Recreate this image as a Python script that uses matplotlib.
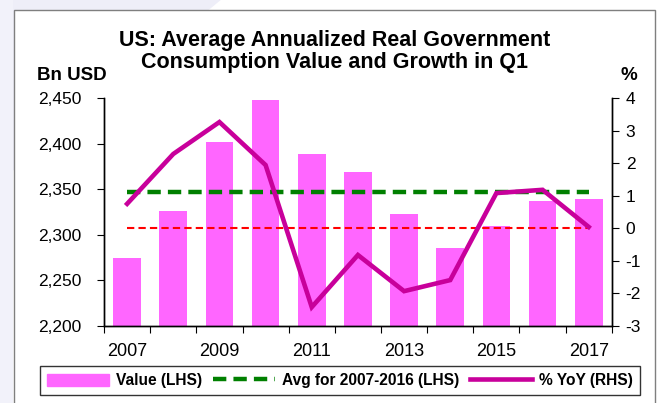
import numpy as np
import matplotlib.pyplot as plt
from matplotlib.patches import Rectangle, Polygon
from matplotlib.lines import Line2D

plt.rcParams['font.family'] = ['Liberation Sans', 'DejaVu Sans']
plt.rcParams['axes.unicode_minus'] = False

# Data
years = [2007, 2008, 2009, 2010, 2011, 2012, 2013, 2014, 2015, 2016, 2017]
value_bn = [2275, 2326, 2402, 2448, 2389, 2369, 2323, 2286, 2310, 2337, 2339]
yoy_pct = [0.75, 2.28, 3.26, 1.94, -2.42, -0.82, -1.93, -1.59, 1.08, 1.18, 0.04]
avg_2007_2016 = 2347
yoy_ref = 0

bar_color = '#FF66FF'
line_color = '#C8009B'

fig = plt.figure(figsize=(6.69, 4.03), dpi=100)

# faint slide background + chart frame
fig.patches.append(Polygon([[0, 1], [0.33, 1], [0, 0.55]], closed=True,
                           transform=fig.transFigure, facecolor='#EEEEF8',
                           edgecolor='none', zorder=-2))
fig.patches.append(Polygon([[0, 0], [0.02, 0], [0.02, 1], [0, 1]], closed=True,
                           transform=fig.transFigure, facecolor='#F2F2FA',
                           edgecolor='none', zorder=-2))
fig.patches.append(Rectangle((0.021, -0.05), 0.958, 1.025, transform=fig.transFigure,
                             facecolor='white', edgecolor='#7F7F7F', lw=1.0, zorder=-1))

ax = fig.add_axes([0.1555, 0.191, 0.759, 0.566])
ax.set_facecolor('none')
x = np.arange(len(years))

ax.bar(x, value_bn, width=0.6, color=bar_color, zorder=1)
ax.plot([x[0], x[-1]], [avg_2007_2016] * 2, color='#008000', lw=3.2,
        dashes=(3, 1.6), zorder=3)
ax.set_ylim(2200, 2450)
ax.set_yticks(np.arange(2200, 2451, 50))
ax.set_yticklabels([f'{v:,}' for v in range(2200, 2451, 50)])
ax.set_xlim(-0.5, len(years) - 0.5)
ax.set_xticks(np.arange(-0.5, len(years), 1.0))
ax.set_xticklabels([])
ax.set_xticks(x[::2], minor=True)
ax.set_xticklabels([str(y) for y in years[::2]], minor=True)
ax.tick_params(axis='x', which='minor', length=0, pad=12, labelsize=13)
ax.tick_params(axis='x', which='major', length=5, direction='out')
ax.tick_params(axis='y', length=5, labelsize=12.5, pad=11)
ax.spines['top'].set_visible(False)
for s in ax.spines.values():
    s.set_linewidth(1.0)

ax2 = ax.twinx()
ax2.plot([x[0], x[-1]], [yoy_ref] * 2, color='#FF0000', lw=1.5,
         dashes=(3.5, 2), zorder=2)
ax2.plot(x, yoy_pct, color=line_color, lw=3.3, zorder=4, solid_joinstyle='miter')
ax2.set_ylim(-3, 4)
ax2.set_yticks(range(-3, 5))
ax2.tick_params(axis='y', length=5, labelsize=12.5, pad=5)
ax2.spines['top'].set_visible(False)
for s in ax2.spines.values():
    s.set_linewidth(1.0)

fig.text(0.5, 0.90, 'US: Average Annualized Real Government', ha='center',
         va='center', fontsize=15.5, fontweight='bold')
fig.text(0.5, 0.846, 'Consumption Value and Growth in Q1', ha='center',
         va='center', fontsize=15.5, fontweight='bold')
fig.text(0.108, 0.813, 'Bn USD', ha='center', va='center', fontsize=13.5,
         fontweight='bold')
fig.text(0.94, 0.813, '%', ha='center', va='center', fontsize=13.5,
         fontweight='bold')

handles = [Rectangle((0, 0), 1, 1, color=bar_color),
           Line2D([], [], color='#008000', lw=3.2, dashes=(3, 1.6)),
           Line2D([], [], color=line_color, lw=3.3)]
labels = ['Value (LHS)', 'Avg for 2007-2016 (LHS)', '% YoY (RHS)']
leg = fig.legend(handles, labels, loc='center', bbox_to_anchor=(0.508, 0.055),
                 ncol=3, frameon=True, fancybox=False, edgecolor='black',
                 prop={'weight': 'bold', 'size': 11.2}, handlelength=4.0,
                 handleheight=0.9, columnspacing=0.7, handletextpad=0.45,
                 borderpad=0.45)
leg.get_frame().set_linewidth(1.0)

fig.savefig('out.png', dpi=100)
